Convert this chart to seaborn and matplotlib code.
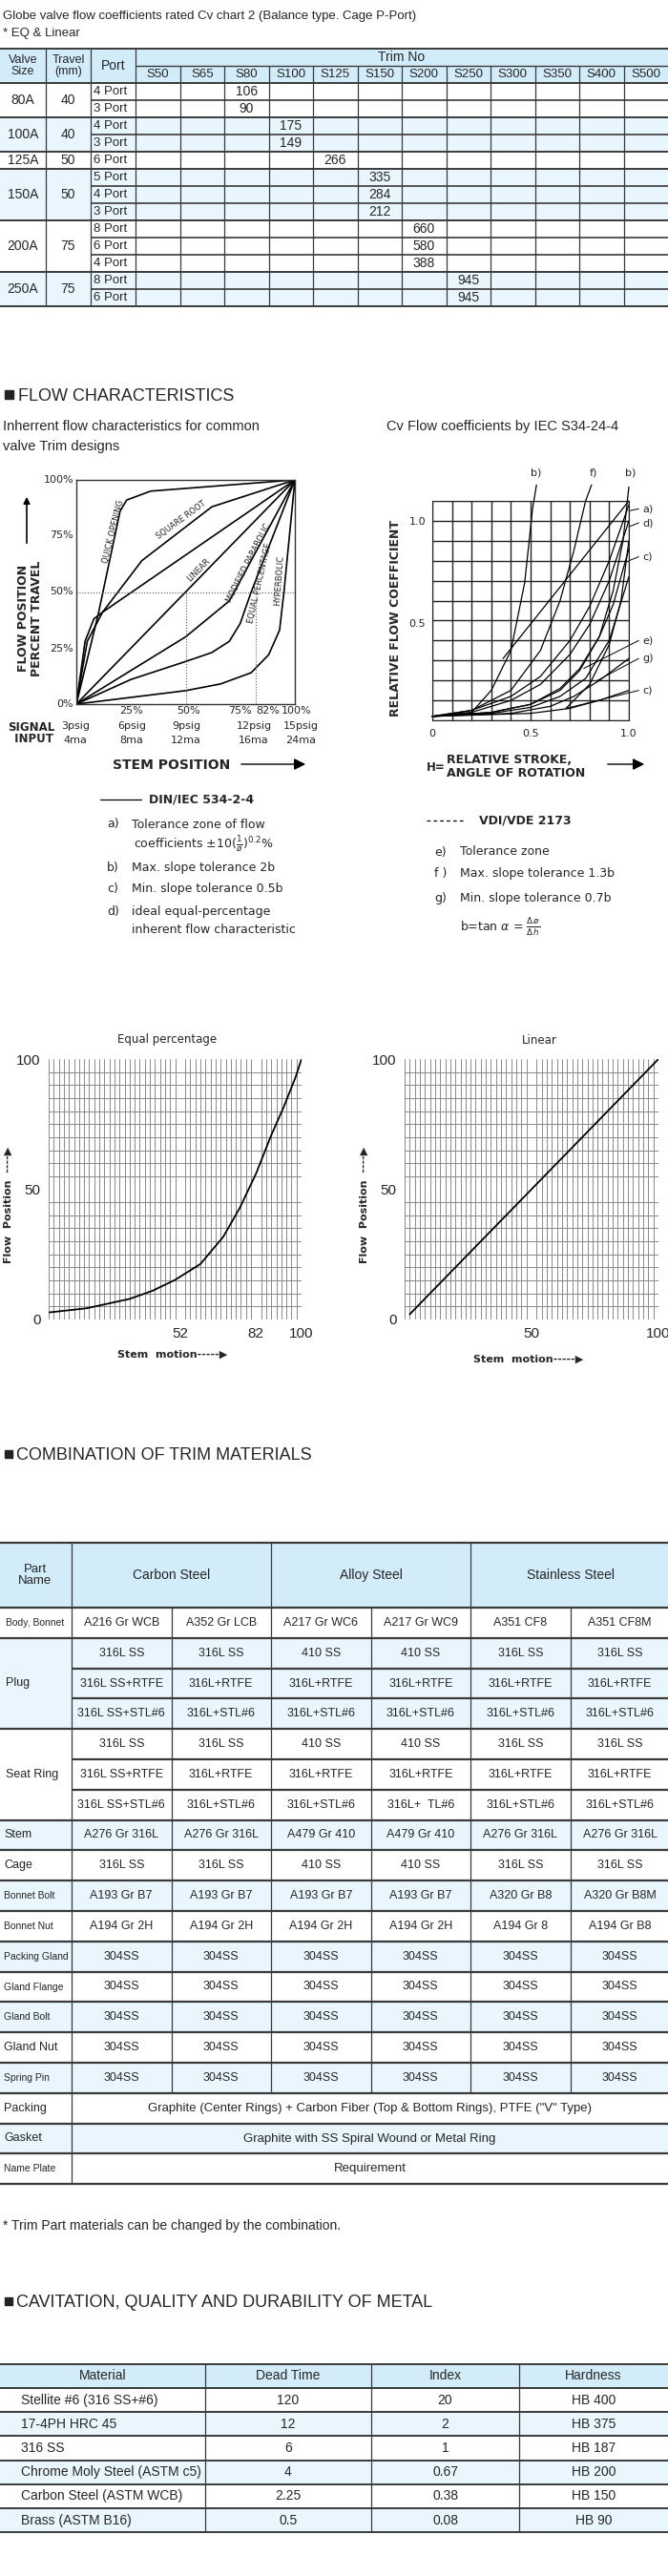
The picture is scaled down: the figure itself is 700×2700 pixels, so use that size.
import numpy as np
import matplotlib
matplotlib.use("Agg")
import matplotlib.pyplot as plt
import seaborn as sns
from matplotlib.patches import Rectangle

# ---- data: Cv table ----
trim_nos = ["S50", "S65", "S80", "S100", "S125", "S150", "S200", "S250", "S300", "S350", "S400", "S500"]
valve_sizes = ["80A", "100A", "125A", "150A", "200A", "250A"]
travels = ["40", "40", "50", "50", "75", "75"]
ports = [["4 Port", "3 Port"], ["4 Port", "3 Port"], ["6 Port"],
         ["5 Port", "4 Port", "3 Port"], ["8 Port", "6 Port", "4 Port"], ["8 Port", "6 Port"]]
cv_trim = ["S80", "S100", "S125", "S150", "S200", "S250"]
cv_values = [[106, 90], [175, 149], [266], [335, 284, 212], [660, 580, 388], [945, 945]]

# ---- data: inherent flow characteristics (% stem, % flow) ----
quick_x = [0, 10, 20, 23, 34, 100]
quick_y = [0, 40, 86, 91, 95, 100]
sqrt_x = [0, 5, 12, 30, 62, 100]
sqrt_y = [0, 28, 41, 64, 88, 100]
linear_x = [0, 100]
linear_y = [0, 100]
modpar_x = [0, 25, 50, 70, 100]
modpar_y = [0, 15, 30, 46, 100]
eqpct_x = [0, 25, 50, 62, 70, 75, 80, 100]
eqpct_y = [0, 11, 19, 23, 28, 36, 50, 100]
hyper_x = [0, 50, 66, 80, 88, 93, 95, 100]
hyper_y = [0, 6, 9, 14, 22, 33, 50, 100]
quick2_x = [0, 4, 8, 12, 100]
quick2_y = [0, 28, 38, 41, 100]

# ---- data: IEC tolerance curves (relative stroke, relative Cv) ----
b_left_x = [0, 0.2, 0.3, 0.4, 0.47, 0.51, 0.53]
b_left_y = [0.02, 0.04, 0.15, 0.35, 0.69, 1.06, 1.18]
b_tan_x = [0.36, 1.0]
b_tan_y = [0.31, 1.1]
f_x = [0, 0.2, 0.4, 0.55, 0.65, 0.72, 0.78, 0.81]
f_y = [0.02, 0.05, 0.15, 0.35, 0.6, 0.85, 1.1, 1.18]
b_right_x = [0, 0.3, 0.5, 0.65, 0.75, 0.85, 0.92, 0.97, 1.0]
b_right_y = [0.02, 0.04, 0.08, 0.15, 0.25, 0.42, 0.65, 0.9, 1.17]
a_x = [0, 0.2, 0.4, 0.55, 0.7, 0.8, 0.9, 1.0]
a_y = [0.02, 0.05, 0.12, 0.22, 0.4, 0.57, 0.8, 1.08]
d_x = [0, 0.2, 0.4, 0.55, 0.7, 0.8, 0.9, 1.0]
d_y = [0.02, 0.04, 0.1, 0.18, 0.33, 0.48, 0.7, 1.0]
c_up_x = [0, 0.3, 0.5, 0.65, 0.75, 0.85, 0.92, 1.0]
c_up_y = [0.02, 0.04, 0.08, 0.16, 0.26, 0.42, 0.58, 0.86]
e_x = [0, 0.3, 0.5, 0.65, 0.78, 0.9, 1.0]
e_y = [0.02, 0.035, 0.065, 0.12, 0.21, 0.4, 0.72]
g_x = [0, 0.4, 0.6, 0.72, 0.85, 1.0]
g_y = [0.02, 0.035, 0.07, 0.12, 0.2, 0.31]
c_low_x = [0, 0.5, 0.7, 0.85, 1.0]
c_low_y = [0.02, 0.035, 0.06, 0.1, 0.15]
c_steep_x = [0.68, 0.8, 0.9, 0.96, 1.0]
c_steep_y = [0.06, 0.18, 0.38, 0.6, 0.9]

# ---- data: equal percentage / linear charts ----
eq_stem = [0, 15, 32, 41, 50, 60, 69, 75.5, 82, 88, 93, 97.5, 100]
eq_flow = [2.7, 4.3, 7.9, 11, 15.2, 21.3, 31.7, 42.7, 56, 70.7, 81.7, 92.7, 100]
lin_stem = [2, 100]
lin_flow = [2, 100]

# ---- data: trim materials ----
groups = ["Carbon Steel", "Alloy Steel", "Stainless Steel"]
mat_rows = [
    ("Body, Bonnet", ["A216 Gr WCB", "A352 Gr LCB", "A217 Gr WC6", "A217 Gr WC9", "A351 CF8", "A351 CF8M"]),
    ("Plug", ["316L SS", "316L SS", "410 SS", "410 SS", "316L SS", "316L SS"]),
    ("", ["316L SS+RTFE", "316L+RTFE", "316L+RTFE", "316L+RTFE", "316L+RTFE", "316L+RTFE"]),
    ("", ["316L SS+STL#6", "316L+STL#6", "316L+STL#6", "316L+STL#6", "316L+STL#6", "316L+STL#6"]),
    ("Seat Ring", ["316L SS", "316L SS", "410 SS", "410 SS", "316L SS", "316L SS"]),
    ("", ["316L SS+RTFE", "316L+RTFE", "316L+RTFE", "316L+RTFE", "316L+RTFE", "316L+RTFE"]),
    ("", ["316L SS+STL#6", "316L+STL#6", "316L+STL#6", "316L+  TL#6", "316L+STL#6", "316L+STL#6"]),
    ("Stem", ["A276 Gr 316L", "A276 Gr 316L", "A479 Gr 410", "A479 Gr 410", "A276 Gr 316L", "A276 Gr 316L"]),
    ("Cage", ["316L SS", "316L SS", "410 SS", "410 SS", "316L SS", "316L SS"]),
    ("Bonnet Bolt", ["A193 Gr B7", "A193 Gr B7", "A193 Gr B7", "A193 Gr B7", "A320 Gr B8", "A320 Gr B8M"]),
    ("Bonnet Nut", ["A194 Gr 2H", "A194 Gr 2H", "A194 Gr 2H", "A194 Gr 2H", "A194 Gr 8", "A194 Gr B8"]),
    ("Packing Gland", ["304SS"] * 6),
    ("Gland Flange", ["304SS"] * 6),
    ("Gland Bolt", ["304SS"] * 6),
    ("Gland Nut", ["304SS"] * 6),
    ("Spring Pin", ["304SS"] * 6),
    ("Packing", ["Graphite (Center Rings) + Carbon Fiber (Top & Bottom Rings), PTFE (\"V\" Type)"]),
    ("Gasket", ["Graphite with SS Spiral Wound or Metal Ring"]),
    ("Name Plate", ["Requirement"]),
]
row_blue = [0, 1, 1, 1, 0, 0, 0, 1, 0, 1, 0, 1, 0, 1, 0, 1, 0, 1, 0]

# ---- data: cavitation ----
cav_cols = ["Material", "Dead Time", "Index", "Hardness"]
cav_material = ["Stellite #6 (316 SS+#6)", "17-4PH HRC 45", "316 SS", "Chrome Moly Steel (ASTM c5)",
                "Carbon Steel (ASTM WCB)", "Brass (ASTM B16)"]
cav_dead = ["120", "12", "6", "4", "2.25", "0.5"]
cav_index = ["20", "2", "1", "0.67", "0.38", "0.08"]
cav_hard = ["HB 400", "HB 375", "HB 187", "HB 200", "HB 150", "HB 90"]

sns.set_style("white")
NARROW = ["Liberation Sans Narrow", "Liberation Sans", "DejaVu Sans"]
ARIAL = ["Liberation Sans", "DejaVu Sans"]
plt.rcParams["font.family"] = ARIAL

BLUE_H = "#d3ecf9"
BLUE_R = "#e9f6fd"
LINE = "#3a3a3a"

W, H = 700, 2700
fig = plt.figure(figsize=(7, 27), dpi=100)
cv = fig.add_axes([0, 0, 1, 1])
cv.set_xlim(0, W)
cv.set_ylim(H, 0)
cv.axis("off")


def box(x0, y0, x1, y1, color):
    cv.add_patch(Rectangle((x0, y0), x1 - x0, y1 - y0, facecolor=color, edgecolor="none", zorder=1))


def hline(y, x0=0, x1=W, lw=1.4):
    cv.plot([x0, x1], [y, y], color=LINE, lw=lw, zorder=3, solid_capstyle="butt")


def vline(x, y0, y1, lw=0.9):
    cv.plot([x, x], [y0, y1], color=LINE, lw=lw, zorder=3, solid_capstyle="butt")


def txt(x, y, s, size=9.5, ha="center", fam=NARROW, **kw):
    cv.text(x, y, s, fontsize=size, ha=ha, va="center", family=fam, zorder=4, **kw)


def pix_axes(x0, y0, x1, y1):
    return fig.add_axes([x0 / W, 1 - y1 / H, (x1 - x0) / W, (y1 - y0) / H])


# ================= Cv table =================
txt(3, 17, "Globe valve flow coefficients rated Cv chart 2 (Balance type. Cage P-Port)", 9.5, "left")
txt(3, 35, "* EQ & Linear", 9.5, "left")
col_x = [0, 48, 95, 142] + [142 + 46.5 * (i + 1) for i in range(12)]
top, mid, hdr = 51, 69, 87
rh = 18
box(0, top, W, hdr, BLUE_H)
y = hdr
for gi, size in enumerate(valve_sizes):
    n = len(ports[gi])
    if gi % 2 == 1:
        box(0, y, W, y + n * rh, BLUE_R)
    txt(24, y + n * rh / 2, size, 10)
    txt(71.5, y + n * rh / 2, travels[gi], 10)
    tcol = trim_nos.index(cv_trim[gi])
    for k in range(n):
        yc = y + k * rh + rh / 2
        txt(98, yc, ports[gi][k], 9.5, "left")
        txt((col_x[3 + tcol] + col_x[4 + tcol]) / 2, yc, str(cv_values[gi][k]), 10)
        if k > 0:
            hline(y + k * rh, 95, W, 1.2)
    y += n * rh
    hline(y, 0, W, 1.4)
hline(top, lw=1.4)
hline(hdr, lw=1.4)
hline(mid, 142, W, 1.0)
txt(24, 69, "Valve\nSize", 9, linespacing=0.9)
txt(71.5, 69, "Travel\n(mm)", 9, linespacing=0.9)
txt(118.5, 69, "Port", 10)
txt(421, 60, "Trim No", 10)
for i, t in enumerate(trim_nos):
    txt((col_x[3 + i] + col_x[4 + i]) / 2, 78, t, 9.5)
for i, x in enumerate(col_x[1:-1]):
    vline(x, mid if i >= 3 else top, y)

# ================= Flow characteristics =================
cv.add_patch(Rectangle((5, 409), 9, 9, color="#222", zorder=4))
txt(19, 415, "FLOW CHARACTERISTICS", 13, "left")
txt(3, 447, "Inherrent flow characteristics for common", 10.5, "left", ARIAL)
txt(3, 468, "valve Trim designs", 10.5, "left", ARIAL)
txt(405, 447, "Cv Flow coefficients by IEC S34-24-4", 10.5, "left", ARIAL)

a1 = pix_axes(80, 503, 309, 738)
for xs, ys in [(quick_x, quick_y), (quick2_x, quick2_y), (sqrt_x, sqrt_y), (linear_x, linear_y),
               (modpar_x, modpar_y), (eqpct_x, eqpct_y), (hyper_x, hyper_y)]:
    sns.lineplot(x=xs, y=ys, ax=a1, color="black", lw=1.2, sort=False, estimator=None)
a1.plot([0, 100], [50, 50], color="#555", lw=0.8, ls=":")
a1.plot([50, 50], [0, 50], color="#555", lw=0.8, ls=":")
a1.plot([82, 82], [0, 50], color="#555", lw=0.8, ls=":")
a1.set_xlim(0, 100)
a1.set_ylim(0, 100)
a1.set_xticks([25, 75])
a1.set_yticks([25, 50, 75])
a1.tick_params(axis="x", direction="in", length=4, labelbottom=False, width=1)
a1.tick_params(axis="y", direction="out", length=4, labelleft=False, width=1)
for s in a1.spines.values():
    s.set_color("#333")
    s.set_linewidth(1)
for s, xx, yy, r in [("QUICK OPENING", 17, 77, 76), ("SQUARE ROOT", 48, 82, 36), ("LINEAR", 56, 60, 45),
                     ("MODIFIED PARABOLIC", 79, 63, 63), ("EQUAL PERCENTAGE", 84, 54, 77),
                     ("HYPERBOLIC", 93, 55, 86)]:
    a1.text(xx, yy, s, fontsize=6, rotation=r, ha="center", va="center", family="DejaVu Sans")
for yy, lab in zip([503, 561, 620, 680, 738], ["100%", "75%", "50%", "25%", "0%"]):
    txt(77, yy, lab, 8, "right", ["DejaVu Sans"])
cv.text(25, 648, "FLOW POSITION", fontsize=9, rotation=90, ha="center", va="center", weight="bold", family="DejaVu Sans")
cv.text(39, 648, "PERCENT TRAVEL", fontsize=9, rotation=90, ha="center", va="center", weight="bold", family="DejaVu Sans")
cv.annotate("", xy=(28, 518), xytext=(28, 572), arrowprops=dict(arrowstyle="-|>", color="black", lw=1.2))
for xx, lab in zip([138, 198, 251, 281, 311], ["25%", "50%", "75%", "82%", "100%"]):
    txt(xx, 745, lab, 8, fam=["DejaVu Sans"])
txt(33, 768, "SIGNAL\n INPUT", 8.5, fam=["DejaVu Sans"], weight="bold", linespacing=0.9)
for xx, a, b in zip([79, 138, 195, 266, 315], ["3psig", "6psig", "9psig", "12psig", "15psig"],
                    ["4ma", "8ma", "12ma", "16ma", "24ma"]):
    txt(xx, 761, a, 8, fam=["DejaVu Sans"])
    txt(xx, 776, b, 8, fam=["DejaVu Sans"])
txt(118, 802, "STEM POSITION", 10, "left", ["DejaVu Sans"], weight="bold")
cv.annotate("", xy=(323, 801), xytext=(250, 801), arrowprops=dict(arrowstyle="-|>", color="black", lw=1.0, mutation_scale=18))
cv.plot([105, 148], [838, 838], color="black", lw=0.9)
txt(156, 838, "DIN/IEC 534-2-4", 9, "left", ["DejaVu Sans"], weight="bold")
for yy, lab, s in [(864, "a)", "Tolerance zone of flow"), (910, "b)", "Max. slope tolerance 2b"),
                   (932, "c)", "Min. slope tolerance 0.5b"), (955, "d)", "ideal equal-percentage")]:
    txt(112, yy, lab, 9, "left", ["DejaVu Sans"])
    txt(138, yy, s, 9, "left", ["DejaVu Sans"])
txt(140, 885, r"coefficients $\pm$10($\frac{1}{\o}$)$^{0.2}$%", 9, "left", ["DejaVu Sans"])
txt(138, 974, "inherent flow characteristic", 9, "left", ["DejaVu Sans"])

# IEC chart
a2 = pix_axes(453, 525, 659, 755)
curves = [(b_left_x, b_left_y), (b_tan_x, b_tan_y), (f_x, f_y), (b_right_x, b_right_y), (a_x, a_y),
          (d_x, d_y), (c_up_x, c_up_y), (e_x, e_y), (g_x, g_y), (c_low_x, c_low_y), (c_steep_x, c_steep_y)]
for xs, ys in curves:
    sns.lineplot(x=xs, y=ys, ax=a2, color="black", lw=0.9, sort=False, estimator=None, clip_on=False)
a2.set_xlim(0, 1)
a2.set_ylim(0, 1.1)
a2.set_xticks(np.arange(0, 1.01, 0.1))
a2.set_yticks(np.arange(0, 1.11, 0.1))
a2.grid(True, color="#222", lw=1.0)
a2.tick_params(length=0, labelbottom=False, labelleft=False)
for s in a2.spines.values():
    s.set_color("#222")
for lx, ly, cx, cy, lab in [(1.07, 1.06, 1.0, 1.05, "a)"), (1.07, 0.99, 1.0, 0.97, "d)"),
                            (1.07, 0.82, 1.0, 0.8, "c)"), (1.07, 0.40, 0.77, 0.26, "e)"),
                            (1.07, 0.31, 0.84, 0.2, "g)"), (1.07, 0.15, 0.68, 0.06, "c)")]:
    a2.plot([cx, lx - 0.02], [cy, ly], color="black", lw=0.7, clip_on=False)
    a2.text(lx, ly, lab, fontsize=8, va="center", ha="left", family="DejaVu Sans")
for lx, lab in [(0.53, "b)"), (0.82, "f)"), (1.01, "b)")]:
    a2.text(lx, 1.24, lab, fontsize=8, ha="center", va="center", family="DejaVu Sans")
txt(453, 769, "0", 8, fam=["DejaVu Sans"])
txt(556, 769, "0.5", 8, fam=["DejaVu Sans"])
txt(659, 769, "1.0", 8, fam=["DejaVu Sans"])
txt(446, 547, "1.0", 8, "right", ["DejaVu Sans"])
txt(446, 654, "0.5", 8, "right", ["DejaVu Sans"])
cv.text(415, 648, "RELATIVE FLOW COEFFICIENT", fontsize=9, rotation=90, ha="center", va="center", weight="bold", family="DejaVu Sans")
txt(447, 805, "H=", 8.5, "left", ["DejaVu Sans"], weight="bold")
txt(468, 797, "RELATIVE STROKE,", 9, "left", ["DejaVu Sans"], weight="bold")
txt(468, 811, "ANGLE OF ROTATION", 9, "left", ["DejaVu Sans"], weight="bold")
cv.annotate("", xy=(678, 801), xytext=(634, 801), arrowprops=dict(arrowstyle="-|>", color="black", lw=1.0, mutation_scale=18))
cv.plot([447, 488], [860, 860], color="black", lw=0.9, ls=(0, (3, 2.5)))
txt(502, 860, "VDI/VDE 2173", 9, "left", ["DejaVu Sans"], weight="bold")
for yy, lab, s in [(893, "e)", "Tolerance zone"), (915, "f )", "Max. slope tolerance 1.3b"),
                   (942, "g)", "Min. slope tolerance 0.7b")]:
    txt(455, yy, lab, 9, "left", ["DejaVu Sans"])
    txt(482, yy, s, 9, "left", ["DejaVu Sans"])
txt(482, 972, r"b=tan $\alpha$ = $\frac{\Delta\,\o}{\Delta\,h}$", 9, "left", ["DejaVu Sans"])

# ================= Equal percentage / Linear =================
for (x0, x1, title, tx, xs, ys, xt) in [(51, 316, "Equal percentage", 175, eq_stem, eq_flow, [52, 82, 100]),
                                        (424, 690, "Linear", 565, lin_stem, lin_flow, [50, 100])]:
    ax = pix_axes(x0, 1110, x1, 1383)
    sns.lineplot(x=xs, y=ys, ax=ax, color="black", lw=1.3, sort=False, estimator=None)
    ax.set_xlim(0, 100)
    ax.set_ylim(0, 100)
    ax.set_xticks(np.arange(0, 101, 2), minor=True)
    ax.set_yticks(np.arange(0, 101, 5), minor=True)
    ax.grid(True, which="minor", color="#8a8a8a", lw=0.7)
    ax.set_xticks(xt)
    ax.set_yticks([0, 50, 100])
    ax.tick_params(which="both", length=0, labelsize=11, pad=6)
    for lab in ax.get_xticklabels() + ax.get_yticklabels():
        lab.set_family(NARROW)
    for s in ax.spines.values():
        s.set_visible(False)
    txt(tx, 1090, title, 8.5, fam=["DejaVu Sans"])
    cv.text(x0 - 42, 1263, "Flow  Position  ----\u25B6", fontsize=8, rotation=90, ha="center", va="center",
            weight="bold", family="DejaVu Sans")
    txt(x0 + 72, 1420 if x0 < 100 else 1425, "Stem  motion-----\u25B6", 8, "left", ["DejaVu Sans"], weight="bold")

# ================= Trim materials =================
cv.add_patch(Rectangle((5, 1520), 8, 8, color="#222", zorder=4))
txt(17, 1526, "COMBINATION OF TRIM MATERIALS", 13, "left")
mx = [0, 75] + [75 + 104.5 * (i + 1) for i in range(6)]
mt, mh, mr = 1617, 1685, 31.8
box(0, mt, W, mh, BLUE_H)
txt(37, 1651, "Part\nName", 9.5, linespacing=1.0)
for i, g in enumerate(groups):
    txt((mx[1 + 2 * i] + mx[3 + 2 * i]) / 2, 1651, g, 10)
y = mh
for i, (name, vals) in enumerate(mat_rows):
    if row_blue[i]:
        box(0, y, W, y + mr, BLUE_R)
    if len(vals) == 6:
        for j, v in enumerate(vals):
            txt((mx[1 + j] + mx[2 + j]) / 2, y + mr / 2, v, 9)
    else:
        txt((75 + W) / 2, y + mr / 2, vals[0], 9.5)
    y += mr
hline(mt, lw=1.6)
hline(mh, lw=1.6)
for i, (name, vals) in enumerate(mat_rows):
    ry = mh + i * mr
    if i in (1, 4):
        box(0, ry, 75, ry + 3 * mr, BLUE_R if row_blue[i] else "white")
        txt(6, ry + 1.5 * mr, name, 9, "left")
    elif name == "Body, Bonnet":
        txt(37, ry + mr / 2, name, 7.5)
    elif name:
        txt(4, ry + mr / 2, name, 7.5 if len(name) > 9 else 9, "left")
    if i > 0:
        hline(ry, 75 if name == "" else 0, W, 1.6)
mb = mh + len(mat_rows) * mr
hline(mb, lw=1.6)
vline(75, mt, mb)
for j in (3, 5):
    vline(mx[j], mt, mh + 16 * mr)
for j in (2, 4, 6):
    vline(mx[j], mh, mh + 16 * mr)
txt(3, 2333, "* Trim Part materials can be changed by the combination.", 10, "left")

# ================= Cavitation =================
cv.add_patch(Rectangle((5, 2408), 8, 8, color="#222", zorder=4))
txt(17, 2414, "CAVITATION, QUALITY AND DURABILITY OF METAL", 13, "left")
cx = [0, 215, 389, 544, W]
ct, chh, cr = 2478, 2503, 25.2
box(0, ct, W, chh, BLUE_H)
for j, c in enumerate(cav_cols):
    txt((cx[j] + cx[j + 1]) / 2, (ct + chh) / 2, c, 10)
y = chh
for i in range(len(cav_material)):
    if i % 2 == 1:
        box(0, y, W, y + cr, BLUE_R)
    txt(22, y + cr / 2, cav_material[i], 10, "left")
    for j, v in enumerate([cav_dead[i], cav_index[i], cav_hard[i]]):
        txt((cx[j + 1] + cx[j + 2]) / 2, y + cr / 2, v, 10)
    hline(y, lw=1.4)
    y += cr
hline(ct, lw=1.4)
hline(y, lw=1.4)
for xx in cx[1:-1]:
    vline(xx, ct, y)

fig.savefig("out.png", dpi=100)
